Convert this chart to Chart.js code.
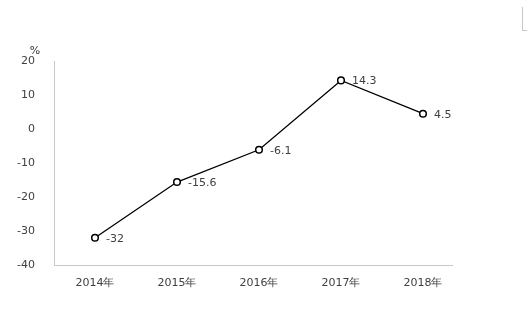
<!DOCTYPE html>
<html>
<head>
<meta charset="utf-8">
<script src="https://cdn.jsdelivr.net/npm/chart.js@4"></script>
<style>
  html, body { margin: 0; padding: 0; background: #fff; }
  #wrap { position: relative; width: 527px; height: 314px; }
  #corner { position: absolute; left: 522px; top: 7px; width: 4px; height: 23px;
            border-left: 1px solid #c8c8c8; border-bottom: 1px solid #c8c8c8; }
</style>
</head>
<body>
<div id="wrap">
  <canvas id="chart" width="527" height="314"></canvas>
  <div id="corner"></div>
</div>
<script>
const years = ["2014年", "2015年", "2016年", "2017年", "2018年"];
const growth = [-32, -15.6, -6.1, 14.3, 4.5];
const yTicks = [20, 10, 0, -10, -20, -30, -40];

const fontFamily = "'DejaVu Sans', Verdana, sans-serif";

// value labels to the right of each point, the % unit, and a slightly short x axis line
const labelPlugin = {
    id: "valueLabels",
    beforeDatasetsDraw(chart) {
        const ctx = chart.ctx;
        const area = chart.chartArea;
        ctx.save();
        ctx.strokeStyle = "#c8c8c8";
        ctx.lineWidth = 1;
        ctx.beginPath();
        ctx.moveTo(area.left, Math.round(area.bottom) + 0.5);
        ctx.lineTo(area.right - 11, Math.round(area.bottom) + 0.5);
        ctx.stroke();
        ctx.restore();
    },
    afterDatasetsDraw(chart) {
        const ctx = chart.ctx;
        const meta = chart.getDatasetMeta(0);
        ctx.save();
        ctx.font = "11px " + fontFamily;
        ctx.fillStyle = "#404040";
        ctx.textAlign = "left";
        ctx.textBaseline = "middle";
        meta.data.forEach((pt, i) => {
            ctx.fillText(String(growth[i]), pt.x + 11, pt.y + 1);
        });
        const yScale = chart.scales.y;
        ctx.font = "11px " + fontFamily;
        ctx.textAlign = "center";
        ctx.fillStyle = "#333";
        ctx.fillText("%", 35, yScale.top - 10);
        ctx.restore();
    }
};

new Chart(document.getElementById("chart").getContext("2d"), {
    type: "line",
    data: {
        labels: years,
        datasets: [{
            data: growth,
            borderColor: "#000",
            borderWidth: 1.3,
            pointRadius: 3.3,
            pointBorderWidth: 1.5,
            pointBackgroundColor: "#fff",
            pointBorderColor: "#000",
            tension: 0,
        }],
    },
    options: {
        responsive: false,
        animation: false,
        layout: {
            padding: { top: 61, right: 63, bottom: 0, left: 0 }
        },
        plugins: {
            legend: { display: false },
            tooltip: { enabled: false },
        },
        scales: {
            x: {
                offset: true,
                grid: { display: false },
                border: { display: false },
                ticks: {
                    color: "#404040",
                    font: { family: fontFamily, size: 11 },
                    padding: 4,
                    maxRotation: 0,
                },
                afterFit(scale) { scale.height = 49; },
            },
            y: {
                min: -40,
                max: 20,
                grid: { display: false },
                border: { display: true, color: "#c8c8c8", width: 1 },
                afterBuildTicks(scale) {
                    scale.ticks = yTicks.map(v => ({ value: v }));
                },
                ticks: {
                    color: "#404040",
                    font: { family: fontFamily, size: 11 },
                    padding: 11,
                },
                afterFit(scale) { scale.width = 54; },
            },
        },
    },
    plugins: [labelPlugin],
});
</script>
</body>
</html>
